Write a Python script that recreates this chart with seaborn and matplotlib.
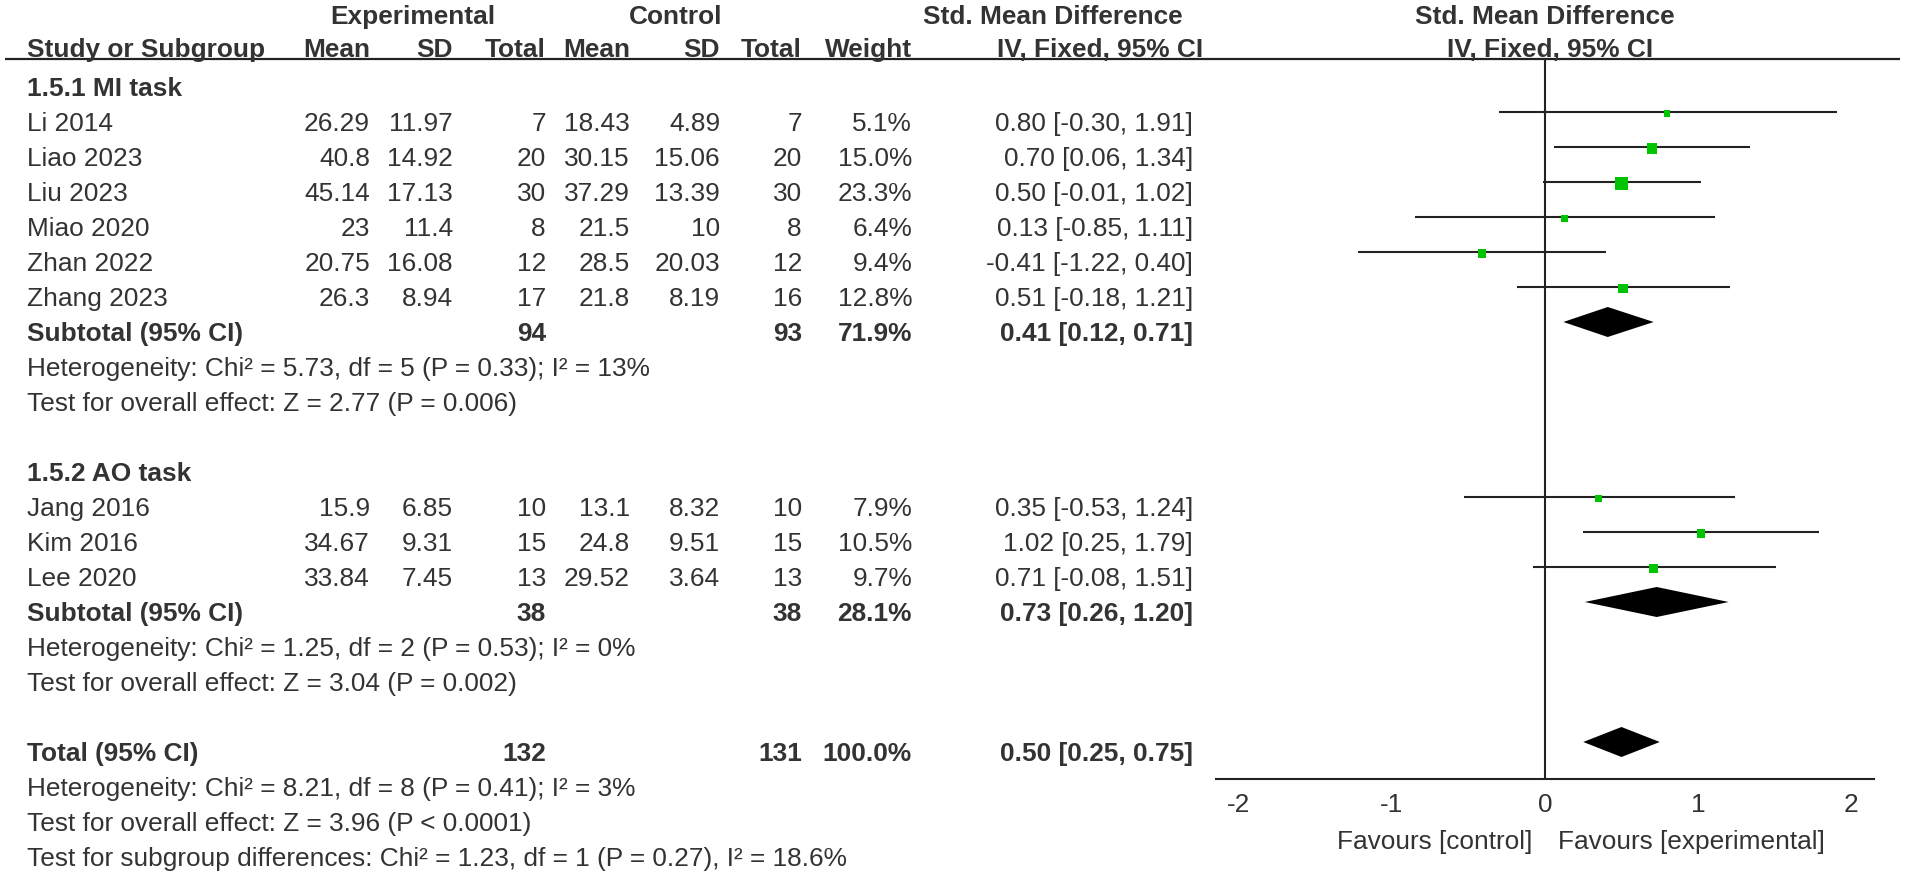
import matplotlib
matplotlib.use("Agg")
import matplotlib.pyplot as plt
import seaborn as sns
import pandas as pd
import numpy as np

# ---- data ----
grp1_studies = ["Li 2014", "Liao 2023", "Liu 2023", "Miao 2020", "Zhan 2022", "Zhang 2023"]
grp1_exp_mean = [26.29, 40.8, 45.14, 23, 20.75, 26.3]
grp1_exp_sd = [11.97, 14.92, 17.13, 11.4, 16.08, 8.94]
grp1_exp_n = [7, 20, 30, 8, 12, 17]
grp1_ctl_mean = [18.43, 30.15, 37.29, 21.5, 28.5, 21.8]
grp1_ctl_sd = [4.89, 15.06, 13.39, 10, 20.03, 8.19]
grp1_ctl_n = [7, 20, 30, 8, 12, 16]
grp1_weight = [5.1, 15.0, 23.3, 6.4, 9.4, 12.8]
grp1_smd = [0.80, 0.70, 0.50, 0.13, -0.41, 0.51]
grp1_lo = [-0.30, 0.06, -0.01, -0.85, -1.22, -0.18]
grp1_hi = [1.91, 1.34, 1.02, 1.11, 0.40, 1.21]

grp2_studies = ["Jang 2016", "Kim 2016", "Lee 2020"]
grp2_exp_mean = [15.9, 34.67, 33.84]
grp2_exp_sd = [6.85, 9.31, 7.45]
grp2_exp_n = [10, 15, 13]
grp2_ctl_mean = [13.1, 24.8, 29.52]
grp2_ctl_sd = [8.32, 9.51, 3.64]
grp2_ctl_n = [10, 15, 13]
grp2_weight = [7.9, 10.5, 9.7]
grp2_smd = [0.35, 1.02, 0.71]
grp2_lo = [-0.53, 0.25, -0.08]
grp2_hi = [1.24, 1.79, 1.51]

# subtotal / total rows: exp n, ctl n, weight, smd, lo, hi
sub1 = [94, 93, 71.9, 0.41, 0.12, 0.71]
sub2 = [38, 38, 28.1, 0.73, 0.26, 1.20]
total = [132, 131, 100.0, 0.50, 0.25, 0.75]

het1 = ["Heterogeneity: Chi² = 5.73, df = 5 (P = 0.33); I² = 13%",
        "Test for overall effect: Z = 2.77 (P = 0.006)"]
het2 = ["Heterogeneity: Chi² = 1.25, df = 2 (P = 0.53); I² = 0%",
        "Test for overall effect: Z = 3.04 (P = 0.002)"]
het_tot = ["Heterogeneity: Chi² = 8.21, df = 8 (P = 0.41); I² = 3%",
           "Test for overall effect: Z = 3.96 (P < 0.0001)",
           "Test for subgroup differences: Chi² = 1.23, df = 1 (P = 0.27), I² = 18.6%"]

ticks = [-2, -1, 0, 1, 2]

# ---- style ----
sns.set_style("white")
plt.rcParams["font.family"] = ["Liberation Sans", "DejaVu Sans"]
FS = 18.9
TXT = "#333333"
LINE = "#222222"
GREEN = "#00C400"

W, H = 1905, 876
fig = plt.figure(figsize=(W / 100, H / 100), dpi=100)

# table layer in pixel-like layout coordinates
tab = fig.add_axes([0, 0, 1, 1])
tab.set_xlim(0, W)
tab.set_ylim(H, 0)
tab.axis("off")

ROW0, STEP = 87, 35


def row_y(i):
    return ROW0 + STEP * i


def put(x, i, s, ha="left", bold=False, y=None):
    yy = row_y(i) if y is None else y
    tab.text(x, yy + 9, s, ha=ha, va="baseline", fontsize=FS,
             fontweight="bold" if bold else "normal", color=TXT)


# column anchors (right edges)
C_STUDY = 27
C_EM, C_ESD, C_EN = 370, 453, 546
C_CM, C_CSD, C_CN = 630, 720, 802
C_W, C_CI = 912, 1193

# headers
put(413, 0, "Experimental", ha="center", bold=True, y=15)
put(676, 0, "Control", ha="center", bold=True, y=15)
put(923, 0, "Std. Mean Difference", bold=True, y=15)
put(1545, 0, "Std. Mean Difference", ha="center", bold=True, y=15)
for x, s, ha in [(C_STUDY, "Study or Subgroup", "left"), (C_EM, "Mean", "right"),
                 (C_ESD, "SD", "right"), (C_EN, "Total", "right"),
                 (C_CM, "Mean", "right"), (C_CSD, "SD", "right"),
                 (C_CN, "Total", "right"), (C_W, "Weight", "right"),
                 (1203, "IV, Fixed, 95% CI", "right"), (1550, "IV, Fixed, 95% CI", "center")]:
    put(x, 0, s, ha=ha, bold=True, y=48)
tab.hlines(59, 5, 1900, color=LINE, lw=1.6)


def ci_str(m, l, h):
    return f"{m:.2f} [{l:.2f}, {h:.2f}]"


def study_rows(start, names, em, esd, en, cm, csd, cn, w, smd, lo, hi):
    for k, name in enumerate(names):
        i = start + k
        put(C_STUDY, i, name)
        put(C_EM, i, f"{em[k]:g}", ha="right")
        put(C_ESD, i, f"{esd[k]:g}", ha="right")
        put(C_EN, i, f"{en[k]}", ha="right")
        put(C_CM, i, f"{cm[k]:g}", ha="right")
        put(C_CSD, i, f"{csd[k]:g}", ha="right")
        put(C_CN, i, f"{cn[k]}", ha="right")
        put(C_W, i, f"{w[k]:.1f}%", ha="right")
        put(C_CI, i, ci_str(smd[k], lo[k], hi[k]), ha="right")


def summary_row(i, label, vals):
    put(C_STUDY, i, label, bold=True)
    put(C_EN, i, f"{vals[0]}", ha="right", bold=True)
    put(C_CN, i, f"{vals[1]}", ha="right", bold=True)
    put(C_W, i, f"{vals[2]:.1f}%", ha="right", bold=True)
    put(C_CI, i, ci_str(vals[3], vals[4], vals[5]), ha="right", bold=True)


put(C_STUDY, 0, "1.5.1 MI task", bold=True)
study_rows(1, grp1_studies, grp1_exp_mean, grp1_exp_sd, grp1_exp_n, grp1_ctl_mean,
           grp1_ctl_sd, grp1_ctl_n, grp1_weight, grp1_smd, grp1_lo, grp1_hi)
summary_row(7, "Subtotal (95% CI)", sub1)
put(C_STUDY, 8, het1[0])
put(C_STUDY, 9, het1[1])

put(C_STUDY, 11, "1.5.2 AO task", bold=True)
study_rows(12, grp2_studies, grp2_exp_mean, grp2_exp_sd, grp2_exp_n, grp2_ctl_mean,
           grp2_ctl_sd, grp2_ctl_n, grp2_weight, grp2_smd, grp2_lo, grp2_hi)
summary_row(15, "Subtotal (95% CI)", sub2)
put(C_STUDY, 16, het2[0])
put(C_STUDY, 17, het2[1])

summary_row(19, "Total (95% CI)", total)
for k, s in enumerate(het_tot):
    put(C_STUDY, 20 + k, s)

put(1532, 0, "Favours [control]", ha="right", y=840)
put(1558, 0, "Favours [experimental]", ha="left", y=840)

# ---- forest panel ----
ax_l, ax_r, ax_t, ax_b = 1216, 1874, 59, 779
ax = fig.add_axes([ax_l / W, 1 - ax_b / H, (ax_r - ax_l) / W, (ax_b - ax_t) / H])
ax.patch.set_alpha(0)
ax.set_xlim(-2.15, 2.15)
ax.set_ylim((ax_b - ROW0) / STEP, (ax_t - ROW0) / STEP)
off = 10 / STEP  # lines sit slightly above the text centre

df = pd.DataFrame({
    "smd": grp1_smd + grp2_smd,
    "lo": grp1_lo + grp2_lo,
    "hi": grp1_hi + grp2_hi,
    "weight": grp1_weight + grp2_weight,
    "row": list(range(1, 7)) + list(range(12, 15)),
})
df["y"] = df["row"] - off

ax.axvline(0, color=LINE, lw=1.5, zorder=1)
ax.hlines(df["y"], df["lo"], df["hi"], color=LINE, lw=1.5, zorder=2)
sns.scatterplot(data=df, x="smd", y=df["y"] + 1.5 / STEP, size="weight",
                sizes=(0, 88), size_norm=(0, 23.3), marker="s", color=GREEN,
                linewidth=0, legend=False, ax=ax, zorder=3)

hh = 15 / STEP
for i, vals in [(7, sub1), (15, sub2), (19, total)]:
    yc = i - off
    ax.fill([vals[4], vals[3], vals[5], vals[3]], [yc, yc - hh, yc, yc + hh],
            color="black", lw=0, zorder=3)

for s in ["top", "right", "left"]:
    ax.spines[s].set_visible(False)
ax.spines["bottom"].set_color(LINE)
ax.spines["bottom"].set_linewidth(1.5)
ax.set_xticks(ticks)
ax.set_xticklabels([str(t) for t in ticks])
ax.set_yticks([])
ax.tick_params(axis="x", direction="inout", length=10, width=1.5, color=LINE,
               labelsize=FS, labelcolor=TXT, pad=5)
ax.set_xlabel("")
ax.set_ylabel("")

fig.savefig("out.png", dpi=100)
